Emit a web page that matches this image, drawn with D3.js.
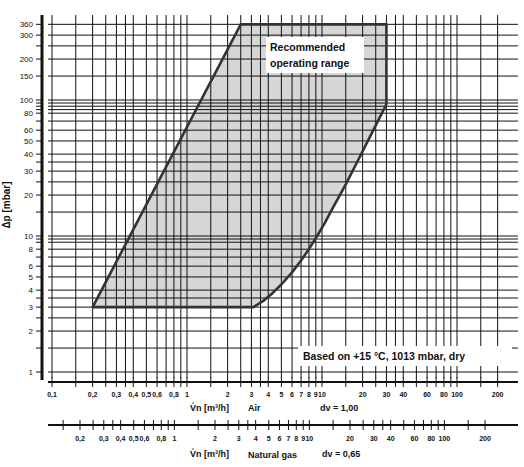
<!DOCTYPE html><html><head><meta charset="utf-8">
<script src="https://cdn.jsdelivr.net/npm/d3@7"></script>
<style>body{margin:0;background:#fff}text{font-family:"Liberation Sans",Arial,sans-serif;fill:#111}</style></head><body>
<svg id="c" width="524" height="467"></svg>
<script>
const yTickLabels=[1,2,3,4,5,6,8,10,20,30,40,50,60,80,100,150,200,300,360];
const yGrid=[1,1.5,2,2.5,3,3.5,4,5,6,7,8,9,9.5,10,15,20,25,30,35,40,50,60,70,80,85,90,95,100,150,200,250,300,360];
const xGrid=[0.1,0.15,0.2,0.25,0.3,0.35,0.4,0.5,0.6,0.7,0.8,0.9,1,1.5,2,2.5,3,3.5,4,5,6,7,8,9,10,15,20,25,30,35,40,50,60,70,80,90,100,150,200];
const airLabels=[0.1,0.2,0.3,0.4,0.5,0.6,0.8,1,2,3,4,5,6,7,8,9,10,20,30,40,60,80,100,200];
const gasLabels=[0.2,0.3,0.4,0.5,0.6,0.8,1,2,3,4,5,6,7,8,9,10,20,30,40,60,80,100,200];
const gasTicks=[0.15,0.2,0.25,0.3,0.35,0.4,0.5,0.6,0.7,0.8,0.9,1,1.5,2,2.5,3,3.5,4,5,6,7,8,9,10,15,20,25,30,35,40,50,60,70,80,90,100,150,200];
const leftEdge=[[0.2,3],[2.5,360]];
const topRight=[[30,360],[30,93]];
const rightCurve=[[30,93],[25,65],[20,42],[15,24],[12,16],[10.5,12.5],[9.2,10],[8,8],[7,6.6],[6,5.4],[5,4.4],[4.3,3.8],[3.7,3.35],[3.1,3]];
const dv=0.65;
const fmt=v=>String(v).replace('.',',');
const svg=d3.select('#c');
const x=d3.scaleLog().domain([0.1,100]).range([52,457]);
const y=d3.scaleLog().domain([1,100]).range([372,100]);
const xg=d3.scaleLog().domain([0.1*Math.sqrt(1/dv),100*Math.sqrt(1/dv)]).range([52,457]);
const poly=[...leftEdge,...topRight,...rightCurve.slice(1)];
const pathStr=d3.line().x(d=>x(d[0])).y(d=>y(d[1]))(poly)+'Z';
svg.append('path').attr('d',pathStr).attr('fill','#d6d6d6').attr('stroke','none');
const g=svg.append('g').attr('stroke','#111').attr('stroke-width',1);
yGrid.forEach(v=>{g.append('line').attr('x1',48).attr('x2',518).attr('y1',y(v)).attr('y2',y(v));
  g.append('line').attr('x1',36).attr('x2',42).attr('y1',y(v)).attr('y2',y(v));});
xGrid.forEach(v=>g.append('line').attr('x1',x(v)).attr('x2',x(v)).attr('y1',15).attr('y2',378));
svg.append('line').attr('x1',42).attr('x2',42).attr('y1',15).attr('y2',380).attr('stroke','#111').attr('stroke-width',3);
svg.append('path').attr('d',pathStr).attr('fill','none').attr('stroke','#333').attr('stroke-width',2.6).attr('stroke-linejoin','round');
yTickLabels.forEach(v=>svg.append('text').attr('x',33).attr('y',y(v)+3).attr('text-anchor','end').attr('font-size',8).text(v));
svg.append('text').attr('transform','translate(10,205) rotate(-90)').attr('text-anchor','middle').attr('font-size',10).attr('font-weight','bold').text('Δp [mbar]');
svg.append('line').attr('x1',48).attr('x2',518).attr('y1',382).attr('y2',382).attr('stroke','#111').attr('stroke-width',2);
xGrid.forEach(v=>svg.append('line').attr('x1',x(v)).attr('x2',x(v)).attr('y1',377).attr('y2',387).attr('stroke','#111'));
airLabels.forEach(v=>svg.append('text').attr('x',x(v)).attr('y',397).attr('text-anchor','middle').attr('font-size',7).attr('font-weight','bold').text(fmt(v)));
svg.append('text').attr('x',190).attr('y',411).attr('font-size',9).attr('font-weight','bold').text('V\u030An [m³/h]');
svg.append('text').attr('x',248).attr('y',411).attr('font-size',9).attr('font-weight','bold').text('Air');
svg.append('text').attr('x',320).attr('y',411).attr('font-size',9).attr('font-weight','bold').text('dv = 1,00');
svg.append('line').attr('x1',48).attr('x2',518).attr('y1',425).attr('y2',425).attr('stroke','#111').attr('stroke-width',2);
gasTicks.forEach(v=>svg.append('line').attr('x1',xg(v)).attr('x2',xg(v)).attr('y1',420).attr('y2',430).attr('stroke','#111'));
gasLabels.forEach(v=>svg.append('text').attr('x',xg(v)).attr('y',441).attr('text-anchor','middle').attr('font-size',7).attr('font-weight','bold').text(fmt(v)));
svg.append('text').attr('x',190).attr('y',457).attr('font-size',9).attr('font-weight','bold').text('V\u030An [m³/h]');
svg.append('text').attr('x',248).attr('y',458).attr('font-size',9).attr('font-weight','bold').text('Natural gas');
svg.append('text').attr('x',322).attr('y',457).attr('font-size',9).attr('font-weight','bold').text('dv = 0,65');
svg.append('rect').attr('x',266).attr('y',37).attr('width',98).attr('height',36).attr('fill','#fff');
svg.append('text').attr('x',270).attr('y',51).attr('font-size',10.5).attr('font-weight','bold').text('Recommended');
svg.append('text').attr('x',270).attr('y',67).attr('font-size',10.5).attr('font-weight','bold').text('operating range');
svg.append('rect').attr('x',298).attr('y',346).attr('width',214).attr('height',20).attr('fill','#fff');
svg.append('text').attr('x',303).attr('y',360).attr('font-size',10.5).attr('font-weight','bold').text('Based on   +15 °C, 1013 mbar, dry');
</script></body></html>
